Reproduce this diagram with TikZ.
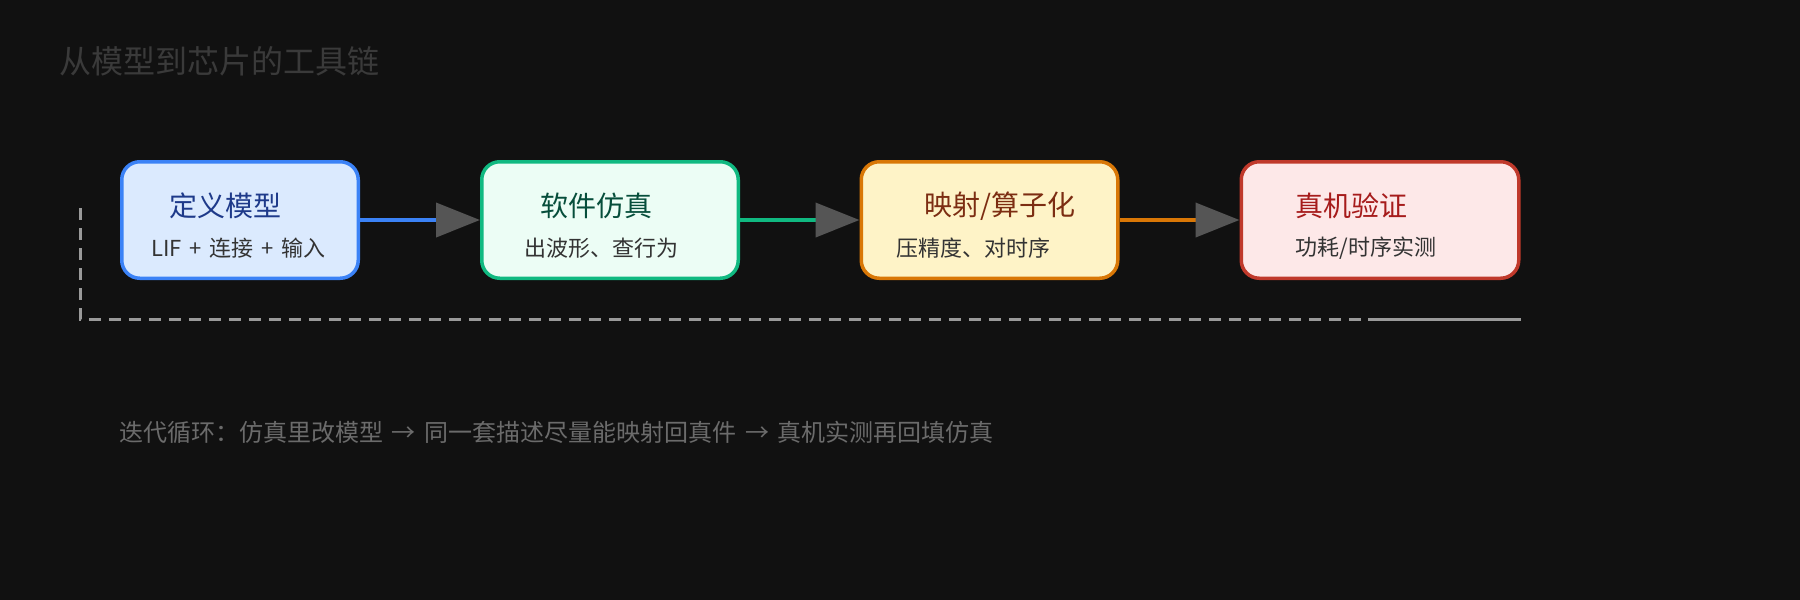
\documentclass[tikz,border=0pt]{standalone}
\usepackage{fontspec}
\setmainfont[WordSpace=1.6]{Noto Sans CJK SC}
\usepackage{xcolor}
\usetikzlibrary{arrows.meta}

\definecolor{bgc}{HTML}{111111}
\definecolor{headc}{HTML}{3A3A3A}
\definecolor{notec}{HTML}{6B6B6B}
\definecolor{subc}{HTML}{333333}
\definecolor{tipc}{HTML}{555555}
\definecolor{loopc}{HTML}{9A9A9A}
\definecolor{mline}{HTML}{3B82F6}
\definecolor{mfill}{HTML}{DBEAFE}
\definecolor{mtext}{HTML}{1E3A8A}
\definecolor{sline}{HTML}{10B981}
\definecolor{sfill}{HTML}{ECFDF5}
\definecolor{stext}{HTML}{064E3B}
\definecolor{qline}{HTML}{D97706}
\definecolor{qfill}{HTML}{FEF3C7}
\definecolor{qtext}{HTML}{7C2D12}
\definecolor{hline}{HTML}{C0392B}
\definecolor{hfill}{HTML}{FDE8E8}
\definecolor{htext}{HTML}{A61B1B}

\begin{document}
\begin{tikzpicture}[x=0.5pt, y=-0.5pt,
    box/.style={draw, line width=1.75pt, rounded corners=9pt, minimum height=58.25pt},
    ttl/.style={anchor=west, inner sep=0pt, font=\fontsize{14pt}{16pt}\selectfont},
    sub/.style={anchor=west, inner sep=0pt, text=subc, font=\fontsize{11pt}{13pt}\selectfont},
    link/.style={line width=2pt, -{Triangle[length=22pt, width=17pt, color=tipc, fill=tipc]}}]
    \fill[bgc] (0,0) rectangle (1800,600);

    \node[anchor=west, inner sep=0pt, text=headc, font=\fontsize{16pt}{18pt}\selectfont] (T) at (59,61) {从模型到芯片的工具链};

    \node[box, draw=mline, fill=mfill, minimum width=118.25pt] (M) at (240,220) {};
    \node[box, draw=sline, fill=sfill, minimum width=128.25pt] (S) at (610,220) {};
    \node[box, draw=qline, fill=qfill, minimum width=128.25pt] (Q) at (989.5,220) {};
    \node[box, draw=hline, fill=hfill, minimum width=138.75pt] (H) at (1380,220) {};

    \node[ttl, text=mtext] (M1) at (169,206) {定义模型};
    \node[sub] (M2) at (151,248) {LIF + 连接 + 输入};
    \node[ttl, text=stext] (S1) at (540,206) {软件仿真};
    \node[sub] (S2) at (524,248) {出波形、查行为};
    \node[ttl, text=qtext] (Q1) at (924,206) {映射/算子化};
    \node[sub] (Q2) at (896,248) {压精度、对时序};
    \node[ttl, text=htext] (H1) at (1295,206) {真机验证};
    \node[sub] (H2) at (1295,248) {功耗/时序实测};

    \draw[link, mline] (M) -- (S);
    \draw[link, sline] (S) -- (Q);
    \draw[link, qline] (Q) -- (H);

    % feedback loop back to the model
    \coordinate (L) at (80,208);
    \coordinate (R) at (1368,319);
    \draw[loopc, line width=1.5pt, dash pattern=on 6pt off 4pt] (L) |- (R);
    \draw[loopc, line width=1.5pt] (R) -- (H.south east |- R);

    \node[anchor=west, inner sep=0pt, text=notec, font=\fontsize{12pt}{14pt}\selectfont] (N) at (119,432) {迭代循环：仿真里改模型 → 同一套描述尽量能映射回真件 → 真机实测再回填仿真};
\end{tikzpicture}
\end{document}
